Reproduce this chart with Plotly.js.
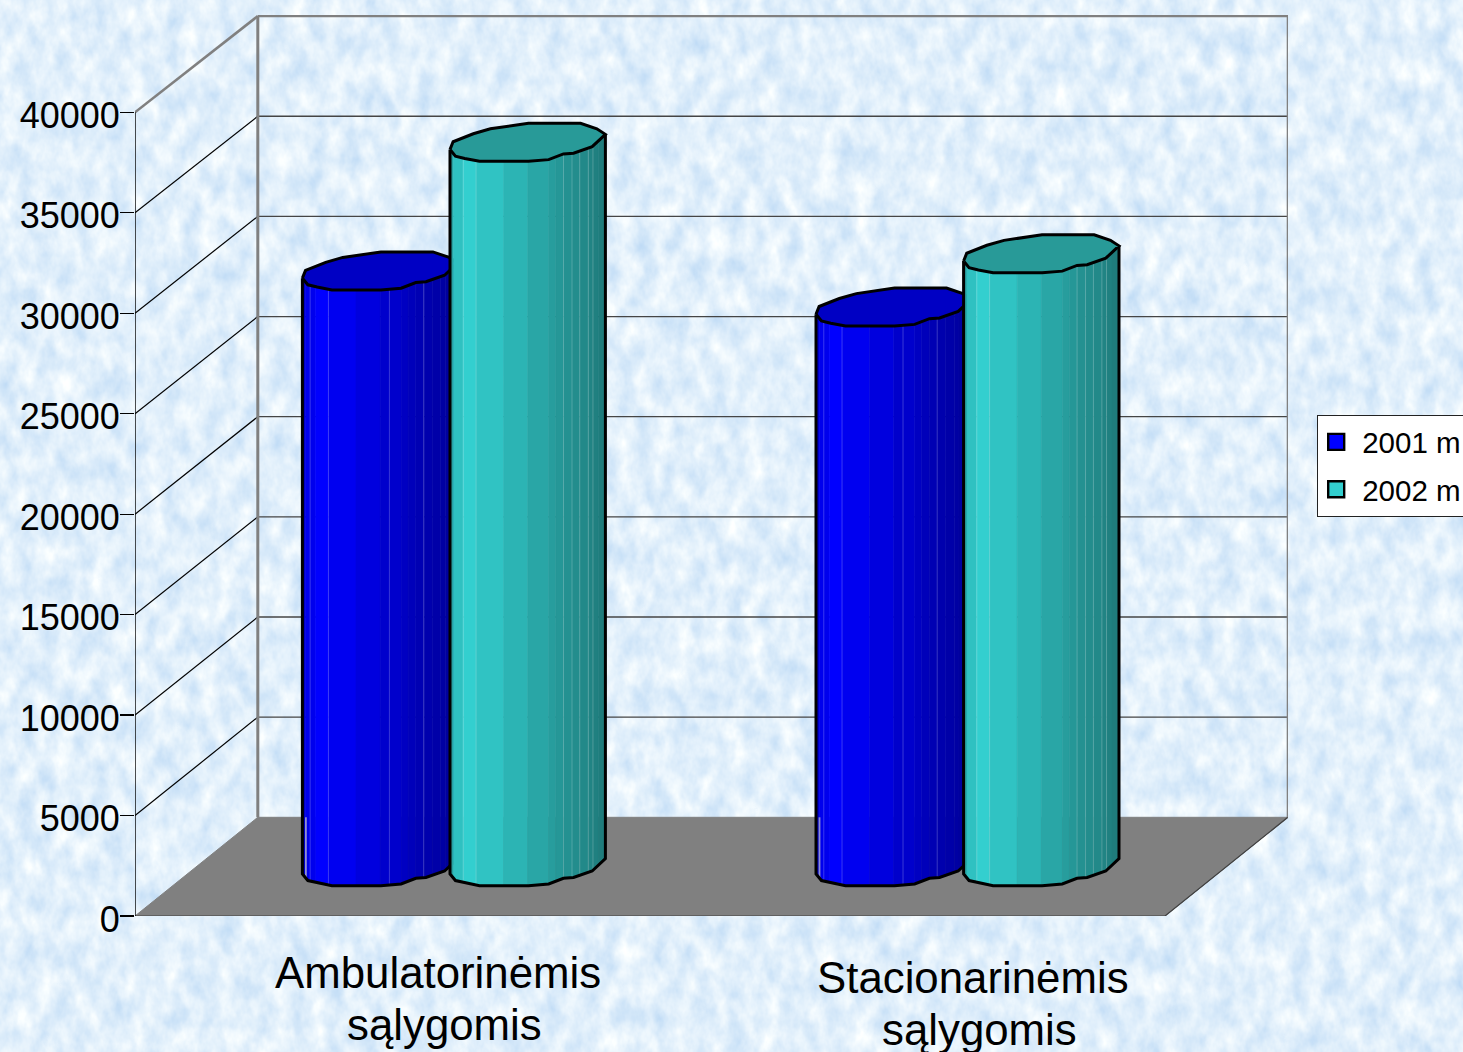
<!DOCTYPE html>
<html><head><meta charset="utf-8">
<script src="https://cdn.plot.ly/plotly-3.0.1.min.js"></script>
<style>
html,body{margin:0;padding:0;overflow:hidden;width:1463px;height:1052px}
body{background-repeat:no-repeat}
#g{width:1463px;height:1052px}
</style></head><body><div id="g"></div>
<script>
// ---- data ----
const categories = ["Ambulatorinėmis sąlygomis", "Stacionarinėmis sąlygomis"];
const labelLines = [["Ambulatorinėmis", "sąlygomis"], ["Stacionarinėmis", "sąlygomis"]];
const seriesNames = ["2001 m", "2002 m"];
const values2001 = [29650, 27850];
const values2002 = [36050, 30500];
const yTicks = [0, 5000, 10000, 15000, 20000, 25000, 30000, 35000, 40000];

// ---- textured background ----
const bg = `<svg xmlns='http://www.w3.org/2000/svg' width='1463' height='1052'><filter id='f' x='0' y='0' width='100%' height='100%' color-interpolation-filters='sRGB'><feTurbulence type='fractalNoise' baseFrequency='0.055 0.035' numOctaves='4' seed='7'/><feColorMatrix values='0.30 0 0 0 0.735  0.18 0 0 0 0.85  0.05 0 0 0 0.96  0 0 0 0 1'/></filter><rect width='1463' height='1052' filter='url(#f)'/></svg>`;
document.body.style.backgroundImage = "url(\"data:image/svg+xml," + encodeURIComponent(bg) + "\")";

// ---- geometry ----
const W = 1463, H = 1052;
const left = 135, right = 1288, top_ = 14, bottom = 916;
const pxPerX = 515, pxPerY = 0.020092;
const xMax = (right - left) / pxPerX, yMax = (bottom - top_) / pxPerY;
const depthX = 122.8 / pxPerX, depthY = 98.7 / pxPerY;
const floorWidth = categories.length;
const px = p => p / pxPerX, py = p => p / pxPerY;
const backShrink = 0.99691;
const project = (x, v, d) => [x + d * depthX, v * (1 - d * (1 - backShrink)) + d * depthY];

function lineTrace(pts, color, width, extra) {
  return Object.assign({
    type: "scatter", mode: "lines", x: pts.map(p => p ? p[0] : null), y: pts.map(p => p ? p[1] : null),
    line: {color, width, shape: "linear"}, showlegend: false, hoverinfo: "skip", cliponaxis: false
  }, extra || {});
}
function polyTrace(pts, fill, lineColor, lineW) {
  return lineTrace(pts.concat([pts[0]]), lineColor || fill, lineW === undefined ? 0.6 : lineW, {fill: "toself", fillcolor: fill});
}

const traces = [];
// floor
traces.push(polyTrace([project(0,0,0), project(0,0,1), project(floorWidth,0,1), project(floorWidth,0,0)], "#808080", "#808080", 1));
traces.push(lineTrace([project(0,0,0), project(floorWidth,0,0), project(floorWidth,0,1)], "#404040", 1.2));
// back wall grid
yTicks.slice(1, -1).forEach(v => {
  traces.push(lineTrace([project(0,v,1), project(floorWidth,v,1)], "#454545", 1.3));
  traces.push(lineTrace([project(0,v,0), project(0,v,1)], "#000000", 1.2));
});
const vTop = yTicks[yTicks.length - 1];
traces.push(lineTrace([project(0,vTop,0), project(0,vTop,1)], "#808080", 2.6));
traces.push(lineTrace([project(0,vTop,1), project(floorWidth,vTop,1), project(floorWidth,0,1)], "#808080", 2.2));
traces.push(lineTrace([project(0,0,1), project(0,vTop,1)], "#808080", 3));
// front axis line
traces.push(lineTrace([[0, py(-13)], [0, vTop]], "#000000", 1.4));

// ---- cylinders ----
// Irregular outline of the source's faceted cylinder, in unit offsets (v is downwards)
const profFront = [[-1,.38],[-.93,.73],[-.81,.85],[-.62,1],[.01,1],[.27,.91],[.46,.61],[.59,.57],[.83,.23],[1,-.42]];
const profBack = [[.89,-.71],[.68,-1],[.01,-1],[-.27,-.85],[-.48,-.71],[-.70,-.45],[-.87,-.20],[-.96,-.03]];
const stripEdges = [-1,-.957,-.83,-.665,-.31,0,.27,.36,.46,.57,.67,.78,.84,.91,1];
const stripShade = [.78,.93,1,.94,.87,.8,.76,.73,.7,.68,.66,.64,.62,.6];
const seriesStyle = [
  {rgb:[0,0,255], cap:"#0000c4", seams:[-.9,-.665,.12,.56], off:-73.8},
  {rgb:[51,207,207], cap:"#289a98", seams:[-.83,-.665,.46,.57,.67,.78,.84], off:73.8}
];
const rx = 77.7, ry = 19;
const groupNudge = -1.4;
function frontAt(u) {
  for (let i = 0; i < profFront.length - 1; i++) {
    const a = profFront[i], b = profFront[i+1];
    if (u >= a[0] && u <= b[0]) return a[1] + (b[1]-a[1]) * (u-a[0]) / (b[0]-a[0]);
  }
  return 0;
}
function frontBetween(u0, u1) {
  const us = [u0].concat(profFront.map(p => p[0]).filter(u => u > u0 && u < u1), [u1]);
  return us.map(u => [u, frontAt(u)]);
}
function cylinder(cat, ser, value) {
  const st = seriesStyle[ser];
  const c = project(cat + 0.5, 0, 0.5);
  const cx = c[0] + px(st.off + cat * groupNudge), yBase = c[1], yTop = yBase + value;
  const pt = (u, v, y0) => [cx + px(u * rx), y0 - py(v * ry)];
  stripEdges.slice(0, -1).forEach((u0, i) => {
    const u1 = stripEdges[i+1], f = frontBetween(u0, u1);
    const col = "rgb(" + st.rgb.map(k => Math.round(k * stripShade[i])).join(",") + ")";
    const poly = f.map(p => pt(p[0], p[1], yTop)).concat(f.slice().reverse().map(p => pt(p[0], p[1], yBase)));
    traces.push(polyTrace(poly, col));
  });
  // light seams
  const seamPts = [];
  st.seams.forEach(u => { const v = frontAt(u); seamPts.push(pt(u,v,yTop), pt(u,v,yBase), null); });
  traces.push(lineTrace(seamPts, "rgba(255,255,255,0.22)", 1));
  if (ser === 0) {
    const u = -.955, v = frontAt(u);
    traces.push(lineTrace([pt(u, v, yBase), [cx + px(u * rx), project(0,0,1)[1]]], "#8f8fd0", 1.8));
  }
  // outline of body
  const all = frontBetween(-1, 1);
  const outline = [pt(-1, all[0][1], yTop)].concat(all.map(p => pt(p[0], p[1], yBase)), [pt(1, all[all.length-1][1], yTop)]);
  traces.push(lineTrace(outline, "#000000", 3));
  // cap
  const cap = profFront.concat(profBack).map(p => pt(p[0], p[1], yTop));
  traces.push(polyTrace(cap, st.cap, "#000000", 3));
}
categories.forEach((_, i) => { cylinder(i, 0, values2001[i]); cylinder(i, 1, values2002[i]); });

// legend entries
seriesNames.forEach((n, i) => traces.push({
  type: "scatter", mode: "markers", x: [null], y: [null], name: n, legendgroup: n, hoverinfo: "skip",
  marker: {symbol: "square", size: 16, color: i ? "rgb(51,207,207)" : "rgb(0,0,255)", line: {color: "#000", width: 2.4}}
}));

// category labels
const labelShift = [[[45.5, 972], [51.5, 1024]], [[65.5, 977], [71.5, 1029]]];
const annotations = [];
labelLines.forEach((ls, i) => ls.forEach((t, j) => annotations.push({
  text: t, xref: "x", yref: "paper", x: i + 0.5, y: 0, showarrow: false, xanchor: "center", yanchor: "middle",
  xshift: labelShift[i][j][0], yshift: bottom - labelShift[i][j][1],
  font: {family: "Liberation Sans, Arial, sans-serif", size: 43.8, color: "#000"}
})));

const layout = {
  width: W, height: H, autosize: false, showlegend: true,
  margin: {l: left, r: W - right, t: top_, b: H - bottom, pad: 0},
  paper_bgcolor: "rgba(0,0,0,0)", plot_bgcolor: "rgba(0,0,0,0)",
  font: {family: "Liberation Sans, Arial, sans-serif", color: "#000"},
  hovermode: false,
  xaxis: {range: [0, xMax], showgrid: false, zeroline: false, showline: false, ticks: "", showticklabels: false, fixedrange: true},
  yaxis: {range: [0, yMax], tickmode: "array", tickvals: yTicks, ticktext: yTicks.map(String),
    showgrid: false, zeroline: false, showline: false, ticks: "outside", ticklen: 14, tickwidth: 1.2, tickcolor: "#000",
    ticklabelstandoff: -7, ticklabelshift: 3,
    tickfont: {family: "Liberation Sans, Arial, sans-serif", size: 36, color: "#000"}, fixedrange: true},
  legend: {xref: "container", yref: "container", x: 1317/W, y: 1 - 415/H, xanchor: "left", yanchor: "top",
    bgcolor: "#ffffff", bordercolor: "#222", borderwidth: 1.2, itemsizing: "trace", tracegroupgap: 6,
    itemwidth: 42, indentation: -8,
    entrywidth: 106, entrywidthmode: "pixels", font: {family: "Liberation Sans, Arial, sans-serif", size: 29.5, color: "#000"}},
  annotations
};
Plotly.newPlot("g", traces, layout, {displayModeBar: false, staticPlot: true});
</script></body></html>
